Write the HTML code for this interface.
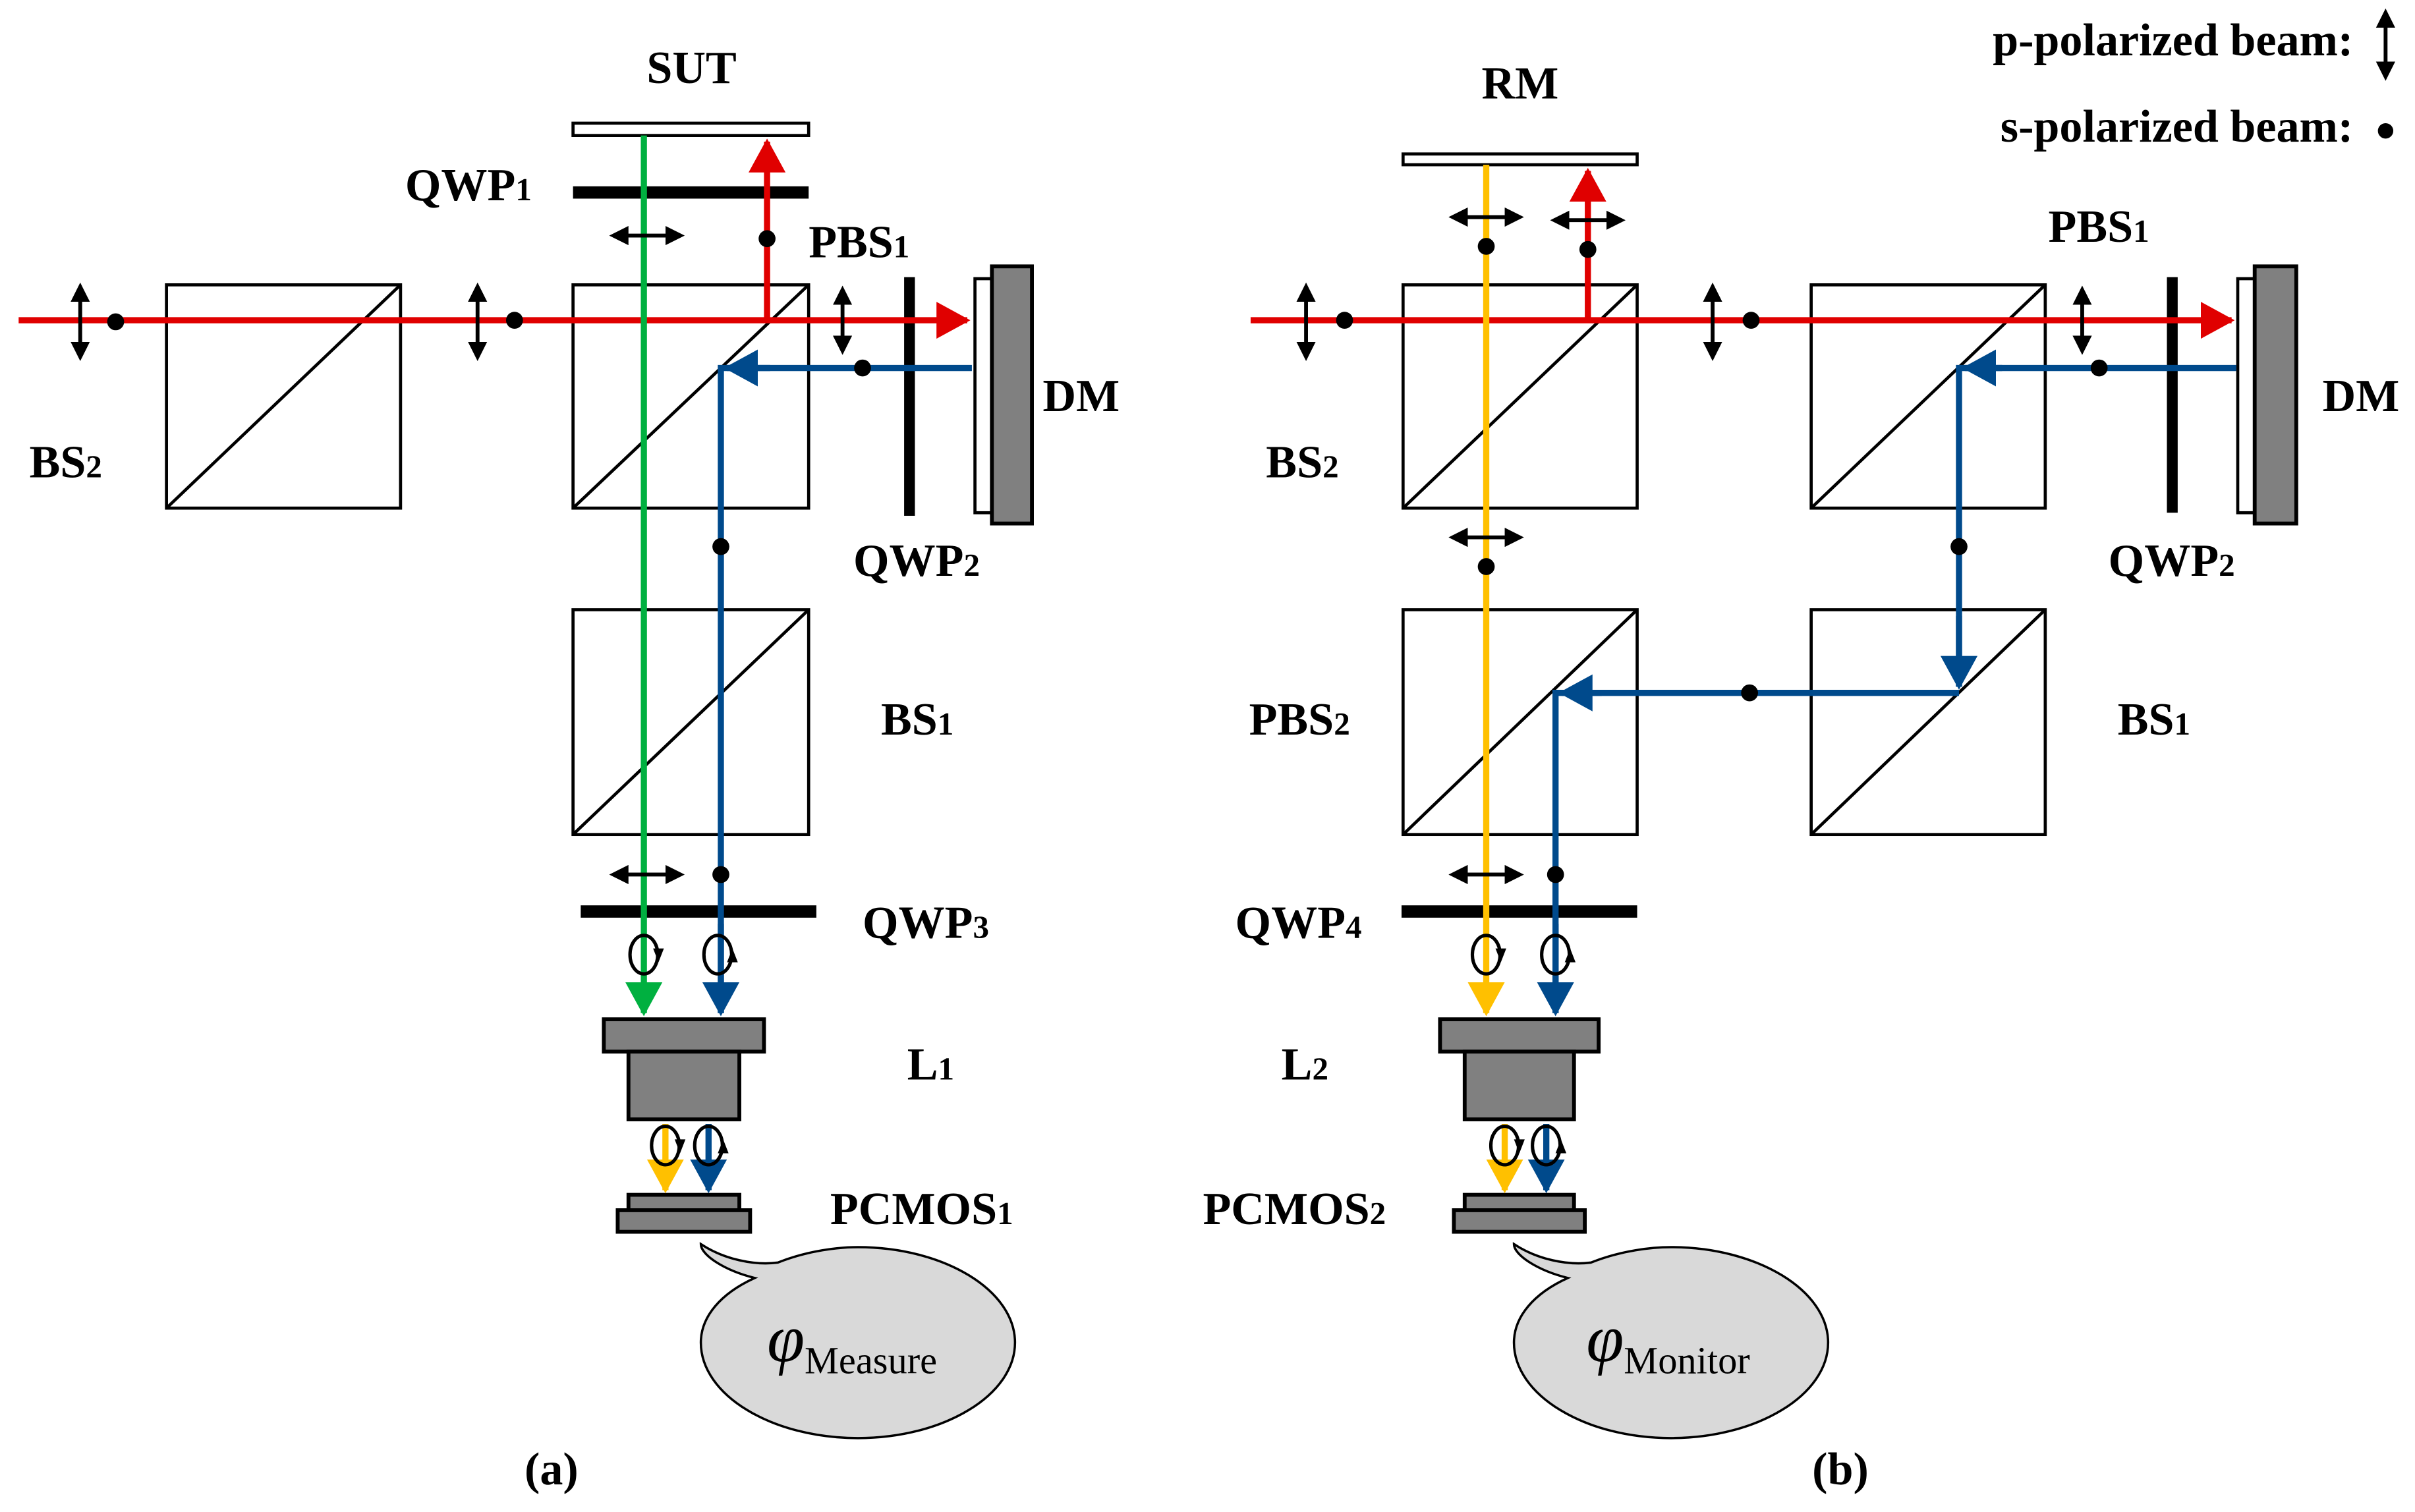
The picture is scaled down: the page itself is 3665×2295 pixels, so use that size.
<!DOCTYPE html>
<html><head><style>html,body{margin:0;padding:0;background:#fff}svg{display:block}</style></head>
<body>
<svg width="3665" height="2295" viewBox="0 0 1568 982" xmlns="http://www.w3.org/2000/svg" font-family="Liberation Serif, serif" font-weight="bold" font-size="30">
<defs>
<marker id="ar" markerWidth="6" markerHeight="7" refX="5" refY="3.5" orient="auto" markerUnits="strokeWidth"><path d="M0,0.5 L5.5,3.5 L0,6.5z" fill="#e00000"/></marker>
<marker id="ag" markerWidth="6" markerHeight="7" refX="5" refY="3.5" orient="auto" markerUnits="strokeWidth"><path d="M0,0.5 L5.5,3.5 L0,6.5z" fill="#00b040"/></marker>
<marker id="ab" markerWidth="6" markerHeight="7" refX="5" refY="3.5" orient="auto" markerUnits="strokeWidth"><path d="M0,0.5 L5.5,3.5 L0,6.5z" fill="#004a8c"/></marker>
<marker id="ay" markerWidth="6" markerHeight="7" refX="5" refY="3.5" orient="auto" markerUnits="strokeWidth"><path d="M0,0.5 L5.5,3.5 L0,6.5z" fill="#ffc000"/></marker>
<marker id="ak" markerWidth="5" markerHeight="5" refX="4" refY="2.5" orient="auto-start-reverse" markerUnits="strokeWidth"><path d="M0,0 L5,2.5 L0,5z" fill="#000"/></marker>
</defs>
<g stroke="#000" stroke-width="2" fill="none">
<rect x="108" y="185" width="152" height="145"/><line x1="108" y1="330" x2="260" y2="185"/>
<rect x="372" y="185" width="153" height="145"/><line x1="372" y1="330" x2="525" y2="185"/>
<rect x="372" y="396" width="153" height="146"/><line x1="372" y1="542" x2="525" y2="396"/>
<rect x="911" y="185" width="152" height="145"/><line x1="911" y1="330" x2="1063" y2="185"/>
<rect x="1176" y="185" width="152" height="145"/><line x1="1176" y1="330" x2="1328" y2="185"/>
<rect x="911" y="396" width="152" height="146"/><line x1="911" y1="542" x2="1063" y2="396"/>
<rect x="1176" y="396" width="152" height="146"/><line x1="1176" y1="542" x2="1328" y2="396"/>
<rect x="372" y="80" width="153" height="8" fill="#fff"/>
<rect x="911" y="100" width="152" height="7" fill="#fff"/>
<rect x="633" y="181" width="11" height="152" fill="#fff"/>
<rect x="1453" y="181" width="11" height="152" fill="#fff"/>
<rect x="644" y="173" width="26" height="167" fill="#808080" stroke-width="2.5"/>
<rect x="1464" y="173" width="27" height="167" fill="#808080" stroke-width="2.5"/>
<rect x="392" y="662" width="104" height="21" fill="#808080" stroke-width="2.5"/>
<rect x="408" y="683" width="72" height="44" fill="#808080" stroke-width="2.5"/>
<rect x="408" y="776" width="72" height="10" fill="#808080" stroke-width="2.5"/>
<rect x="401" y="786" width="86" height="14" fill="#808080" stroke-width="2.5"/>
<rect x="935" y="662" width="103" height="21" fill="#808080" stroke-width="2.5"/>
<rect x="951" y="683" width="71" height="44" fill="#808080" stroke-width="2.5"/>
<rect x="951" y="776" width="71" height="10" fill="#808080" stroke-width="2.5"/>
<rect x="944" y="786" width="85" height="14" fill="#808080" stroke-width="2.5"/>
</g>
<g fill="#000">
<rect x="372" y="121" width="153" height="8"/>
<rect x="587" y="180" width="7" height="155"/>
<rect x="377" y="588" width="153" height="8"/>
<rect x="1407" y="180" width="7" height="153"/>
<rect x="910" y="588" width="153" height="8"/>
</g>
<g fill="none" stroke-width="4">
<line x1="12" y1="208" x2="628" y2="208" stroke="#e00000" marker-end="url(#ar)"/>
<line x1="498" y1="208" x2="498" y2="92" stroke="#e00000" marker-end="url(#ar)"/>
<line x1="418" y1="88" x2="418" y2="658" stroke="#00b040" marker-end="url(#ag)"/>
<polyline points="631,239 468,239 468,658" stroke="#004a8c"/>
<line x1="500" y1="239" x2="472" y2="239" stroke="#004a8c" marker-end="url(#ab)"/>
<line x1="468" y1="600" x2="468" y2="658" stroke="#004a8c" marker-end="url(#ab)"/>
<line x1="432" y1="730" x2="432" y2="773" stroke="#ffc000" marker-end="url(#ay)"/>
<line x1="460" y1="730" x2="460" y2="773" stroke="#004a8c" marker-end="url(#ab)"/>
<line x1="812" y1="208" x2="1449" y2="208" stroke="#e00000" marker-end="url(#ar)"/>
<line x1="1031" y1="208" x2="1031" y2="111" stroke="#e00000" marker-end="url(#ar)"/>
<line x1="965" y1="107" x2="965" y2="658" stroke="#ffc000" marker-end="url(#ay)"/>
<polyline points="1452,239 1272,239 1272,446" stroke="#004a8c"/>
<line x1="1300" y1="239" x2="1276" y2="239" stroke="#004a8c" marker-end="url(#ab)"/>
<line x1="1272" y1="400" x2="1272" y2="446" stroke="#004a8c" marker-end="url(#ab)"/>
<polyline points="1272,450 1010,450 1010,658" stroke="#004a8c"/>
<line x1="1040" y1="450" x2="1014" y2="450" stroke="#004a8c" marker-end="url(#ab)"/>
<line x1="1010" y1="600" x2="1010" y2="658" stroke="#004a8c" marker-end="url(#ab)"/>
<line x1="977" y1="730" x2="977" y2="773" stroke="#ffc000" marker-end="url(#ay)"/>
<line x1="1004" y1="730" x2="1004" y2="773" stroke="#004a8c" marker-end="url(#ab)"/>
</g>
<g stroke="#000" stroke-width="2.5" marker-start="url(#ak)" marker-end="url(#ak)">
<line x1="52" y1="186" x2="52" y2="232"/>
<line x1="310" y1="186" x2="310" y2="232"/>
<line x1="547" y1="188" x2="547" y2="228"/>
<line x1="398" y1="153" x2="442" y2="153"/>
<line x1="398" y1="568" x2="442" y2="568"/>
<line x1="848" y1="186" x2="848" y2="232"/>
<line x1="1112" y1="186" x2="1112" y2="232"/>
<line x1="1352" y1="188" x2="1352" y2="228"/>
<line x1="943" y1="141" x2="987" y2="141"/>
<line x1="1009" y1="143" x2="1053" y2="143"/>
<line x1="943" y1="349" x2="987" y2="349"/>
<line x1="943" y1="568" x2="987" y2="568"/>
<line x1="1549" y1="8" x2="1549" y2="50"/>
</g>
<g fill="#000">
<circle cx="75" cy="209" r="5.5"/><circle cx="334" cy="208" r="5.5"/><circle cx="498" cy="155" r="5.5"/>
<circle cx="560" cy="239" r="5.5"/><circle cx="468" cy="355" r="5.5"/><circle cx="468" cy="568" r="5.5"/>
<circle cx="873" cy="208" r="5.5"/><circle cx="1137" cy="208" r="5.5"/><circle cx="965" cy="160" r="5.5"/>
<circle cx="1031" cy="162" r="5.5"/><circle cx="1363" cy="239" r="5.5"/><circle cx="1272" cy="355" r="5.5"/>
<circle cx="1136" cy="450" r="5.5"/><circle cx="965" cy="368" r="5.5"/><circle cx="1010" cy="568" r="5.5"/>
<circle cx="1549" cy="85" r="5"/>
</g>
<g stroke="#000" stroke-width="2.2" fill="none">
<ellipse cx="418" cy="620" rx="9" ry="12.5"/><ellipse cx="466" cy="620" rx="9" ry="12.5"/>
<ellipse cx="432" cy="744" rx="9" ry="12.5"/><ellipse cx="460" cy="744" rx="9" ry="12.5"/>
<ellipse cx="965" cy="620" rx="9" ry="12.5"/><ellipse cx="1010" cy="620" rx="9" ry="12.5"/>
<ellipse cx="977" cy="744" rx="9" ry="12.5"/><ellipse cx="1004" cy="744" rx="9" ry="12.5"/>
</g>
<g fill="#000">
<path d="M424,616 l7,0 l-3.5,9z"/><path d="M472,625 l7,0 l-3.5,-9z"/>
<path d="M438,740 l7,0 l-3.5,9z"/><path d="M466,749 l7,0 l-3.5,-9z"/>
<path d="M971,616 l7,0 l-3.5,9z"/><path d="M1016,625 l7,0 l-3.5,-9z"/>
<path d="M983,740 l7,0 l-3.5,9z"/><path d="M1010,749 l7,0 l-3.5,-9z"/>
</g>
<g fill="#d9d9d9" stroke="#000" stroke-width="1.5">
<path d="M490,830 C470,825 455,815 455,808 C470,818 490,822 505,820 C525,812 545,810 557,810 C613,810 659,838 659,872 C659,906 613,934 557,934 C501,934 455,906 455,872 C455,855 468,840 490,830 Z"/>
<path d="M1018,830 C998,825 983,815 983,808 C998,818 1018,822 1033,820 C1053,812 1073,810 1085,810 C1141,810 1187,838 1187,872 C1187,906 1141,934 1085,934 C1029,934 983,906 983,872 C983,855 996,840 1018,830 Z"/>
</g>
<g font-weight="normal">
<text x="498" y="884" font-size="44" font-style="italic">φ<tspan font-size="25" font-style="normal" dy="8">Measure</tspan></text>
<text x="1030" y="884" font-size="44" font-style="italic">φ<tspan font-size="25" font-style="normal" dy="8">Monitor</tspan></text>
</g>
<g fill="#000">
<text x="449" y="54" text-anchor="middle">SUT</text>
<text x="987" y="64" text-anchor="middle">RM</text>
<text x="263" y="130">QWP<tspan font-size="21">1</tspan></text>
<text x="525" y="167">PBS<tspan font-size="21">1</tspan></text>
<text x="1330" y="157">PBS<tspan font-size="21">1</tspan></text>
<text x="677" y="267">DM</text>
<text x="1508" y="267">DM</text>
<text x="19" y="310">BS<tspan font-size="21">2</tspan></text>
<text x="822" y="310">BS<tspan font-size="21">2</tspan></text>
<text x="554" y="374">QWP<tspan font-size="21">2</tspan></text>
<text x="1369" y="374">QWP<tspan font-size="21">2</tspan></text>
<text x="572" y="477">BS<tspan font-size="21">1</tspan></text>
<text x="1375" y="477">BS<tspan font-size="21">1</tspan></text>
<text x="811" y="477">PBS<tspan font-size="21">2</tspan></text>
<text x="560" y="609">QWP<tspan font-size="21">3</tspan></text>
<text x="802" y="609">QWP<tspan font-size="21">4</tspan></text>
<text x="589" y="701">L<tspan font-size="21">1</tspan></text>
<text x="832" y="701">L<tspan font-size="21">2</tspan></text>
<text x="539" y="795">PCMOS<tspan font-size="21">1</tspan></text>
<text x="781" y="795">PCMOS<tspan font-size="21">2</tspan></text>
<text x="358" y="964" text-anchor="middle">(a)</text>
<text x="1195" y="964" text-anchor="middle">(b)</text>
<text x="1528" y="36" text-anchor="end">p-polarized beam:</text>
<text x="1528" y="92" text-anchor="end">s-polarized beam:</text>
</g>
</svg>
</body></html>
